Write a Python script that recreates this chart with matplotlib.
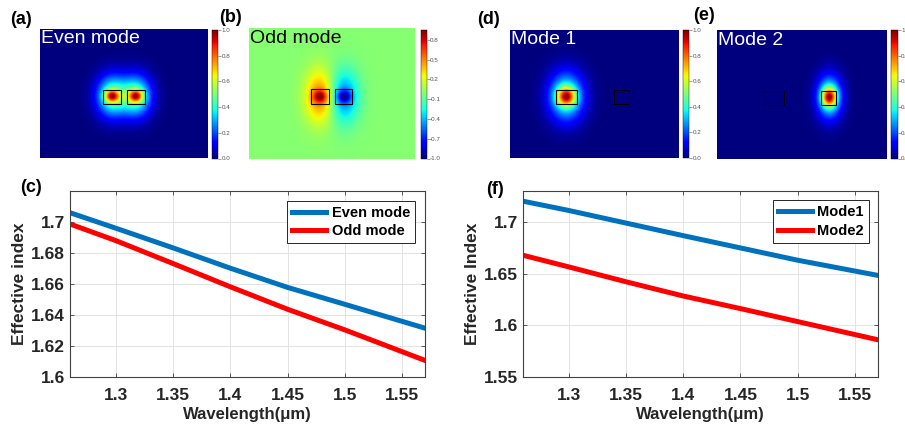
import matplotlib
matplotlib.use('Agg')
import matplotlib.pyplot as plt
import numpy as np

plt.rcParams['font.family'] = ['Liberation Sans', 'DejaVu Sans']

# ---- line data ----
wl = [1.26, 1.30, 1.35, 1.40, 1.45, 1.50, 1.57]
even_mode = [1.7060, 1.6960, 1.6833, 1.6702, 1.6578, 1.6469, 1.6315]
odd_mode = [1.6987, 1.6880, 1.6732, 1.6582, 1.6437, 1.6304, 1.6107]
mode1 = [1.7202, 1.7112, 1.6990, 1.6868, 1.6749, 1.6630, 1.6483]
mode2 = [1.6679, 1.6566, 1.6422, 1.6284, 1.6162, 1.6036, 1.5860]

xticks = [1.3, 1.35, 1.4, 1.45, 1.5, 1.55]
xticklabels = ['1.3', '1.35', '1.4', '1.45', '1.5', '1.55']
yticks_c = [1.6, 1.62, 1.64, 1.66, 1.68, 1.7]
yticklabels_c = ['1.6', '1.62', '1.64', '1.66', '1.68', '1.7']
yticks_f = [1.55, 1.6, 1.65, 1.7]
yticklabels_f = ['1.55', '1.6', '1.65', '1.7']

# ---- mode field images (grid in image pixels, 168 x 130) ----
img_w, img_h = 168, 130
# coupled pair (a, b): core centres / box sizes
pair_x = [72, 96]
pair_y = 68
pair_box = [(18, 14), (18, 14)]
# asymmetric pair (d, e): wide core left, narrow core right
asym_x = [56, 111]
asym_y = 68
asym_box = [(21, 14), (15, 14)]

cb_ticks_pos = [0.0, 0.2, 0.4, 0.6, 0.8, 1.0]
cb_labels_pos = ['0.0', '0.2', '0.4', '0.6', '0.8', '1.0']
cb_ticks_odd = [-1.0, -0.7, -0.4, -0.1, 0.2, 0.5, 0.8]
cb_labels_odd = ['-1.0', '-0.7', '-0.4', '-0.1', '0.2', '0.5', '0.8']

X, Y = np.meshgrid(np.arange(img_w) + 0.5, np.arange(img_h) + 0.5)


def lobe(cx, cy, core=(7, 6), halo=(22, 26), w=0.45):
    dx = X - cx
    dy = Y - cy
    return ((1 - w) * np.exp(-(dx / core[0]) ** 2 - (dy / core[1]) ** 2)
            + w * np.exp(-(dx / halo[0]) ** 2 - (dy / halo[1]) ** 2))


even_field = lobe(pair_x[0], pair_y, halo=(15, 20), w=0.5) + lobe(pair_x[1], pair_y, halo=(15, 20), w=0.5)
even_field = even_field / even_field.max()
odd_field = lobe(pair_x[0], pair_y, halo=(15, 26), w=0.5) - lobe(pair_x[1], pair_y, halo=(15, 26), w=0.5)
odd_field = odd_field / np.abs(odd_field).max()
m1_field = lobe(asym_x[0], asym_y, core=(9, 9), halo=(17, 24), w=0.45)
m1_field = m1_field / m1_field.max()
m2_field = lobe(asym_x[1], asym_y, core=(7, 9), halo=(12, 21), w=0.45)
m2_field = m2_field / m2_field.max()

W, H = 905, 432
fig = plt.figure(figsize=(W / 100, H / 100), dpi=100)


def px_axes(x0, y0, x1, y1):
    return fig.add_axes([x0 / W, 1 - y1 / H, (x1 - x0) / W, (y1 - y0) / H])


def field_panel(rect, cbrect, field, vmin, vmax, ticks, labels, boxes, cx, cy, title, tcolor):
    ax = px_axes(*rect)
    im = ax.imshow(field, cmap='jet', vmin=vmin, vmax=vmax, origin='upper',
                   extent=[0, img_w, img_h, 0], aspect='auto', interpolation='bilinear')
    for (bw, bh), x in zip(boxes, cx):
        ax.add_patch(plt.Rectangle((x - bw / 2, cy - bh / 2), bw, bh, fill=False,
                                   ec='black', lw=0.8))
    ax.set_axis_off()
    ax.text(0.004, 0.985, title, transform=ax.transAxes, ha='left', va='top',
            fontsize=14, color=tcolor)
    cax = px_axes(*cbrect)
    cb = fig.colorbar(im, cax=cax)
    cb.set_ticks(ticks)
    cb.set_ticklabels(labels)
    cb.outline.set_linewidth(0.3)
    cax.tick_params(labelsize=4.5, length=2, width=0.4, pad=0.5, colors='#555555')
    return ax


field_panel((40, 28.5, 207.5, 158.5), (212, 30, 218, 158.5), even_field, 0, 1,
            cb_ticks_pos, cb_labels_pos, pair_box, pair_x, pair_y, 'Even mode', 'white')
field_panel((249, 28, 414.5, 159), (420.5, 30, 426.5, 158.5), odd_field, -1, 0.95,
            cb_ticks_odd, cb_labels_odd, pair_box, pair_x, pair_y, 'Odd mode', 'black')
field_panel((510, 29.5, 678, 158), (682.5, 30, 689, 158), m1_field, 0, 1,
            cb_ticks_pos, cb_labels_pos, asym_box, asym_x, asym_y, 'Mode 1', 'white')
field_panel((717, 30, 886, 159.5), (891, 30, 897.5, 158.5), m2_field, 0, 1,
            cb_ticks_pos, cb_labels_pos, asym_box, asym_x, asym_y, 'Mode 2', 'white')

blue = '#0072BD'
red = '#FF0000'


def line_panel(rect, y1, y2, names, ylim, yticks, yticklabels, ylabel, leg_anchor):
    ax = px_axes(*rect)
    ax.plot(wl, y1, color=blue, lw=3.6, label=names[0])
    ax.plot(wl, y2, color=red, lw=3.6, label=names[1])
    ax.set_xlim(1.26, 1.57)
    ax.set_ylim(*ylim)
    ax.set_xticks(xticks)
    ax.set_xticklabels(xticklabels)
    ax.set_yticks(yticks)
    ax.set_yticklabels(yticklabels)
    ax.grid(True, color='#e3e3e3', lw=0.7)
    ax.set_axisbelow(True)
    for s in ax.spines.values():
        s.set_color('#404040')
        s.set_linewidth(0.8)
    ax.tick_params(direction='in', length=3, width=0.6, colors='#404040',
                   top=True, right=True, labelsize=12.5)
    ax.tick_params(axis='x', pad=8)
    ax.tick_params(axis='y', pad=3.5)
    for t in ax.get_xticklabels() + ax.get_yticklabels():
        t.set_fontweight('bold')
        t.set_color('#262626')
    ax.set_xlabel('Wavelength(\u03bcm)', fontsize=12, fontweight='bold', color='#262626', labelpad=3)
    ax.set_ylabel(ylabel, fontsize=12.5, fontweight='bold', color='#262626', labelpad=3)
    leg = ax.legend(loc='upper right', bbox_to_anchor=leg_anchor, borderaxespad=0,
                    prop={'weight': 'bold', 'size': 10.5}, fancybox=False, framealpha=1,
                    edgecolor='#262626', handlelength=2.3, handletextpad=0.4,
                    borderpad=0.35, labelspacing=0.3)
    leg.get_frame().set_linewidth(0.7)
    return ax


line_panel((70, 191, 425, 377), even_mode, odd_mode, ['Even mode', 'Odd mode'],
           (1.6, 1.72), yticks_c, yticklabels_c, 'Effective index', (0.972, 0.948))
line_panel((522.7, 191, 878, 377), mode1, mode2, ['Mode1', 'Mode2'],
           (1.55, 1.73), yticks_f, yticklabels_f, 'Effective Index', (0.975, 0.95))

# panel letters
for lab, x, y in [('(a)', 10, 19), ('(b)', 219, 17.5), ('(d)', 477, 19), ('(e)', 693, 16),
                  ('(c)', 20, 188), ('(f)', 486, 189)]:
    fig.text(x / W, 1 - y / H, lab, fontsize=13, fontweight='bold', ha='left', va='center')

fig.savefig('out.png', dpi=100)
